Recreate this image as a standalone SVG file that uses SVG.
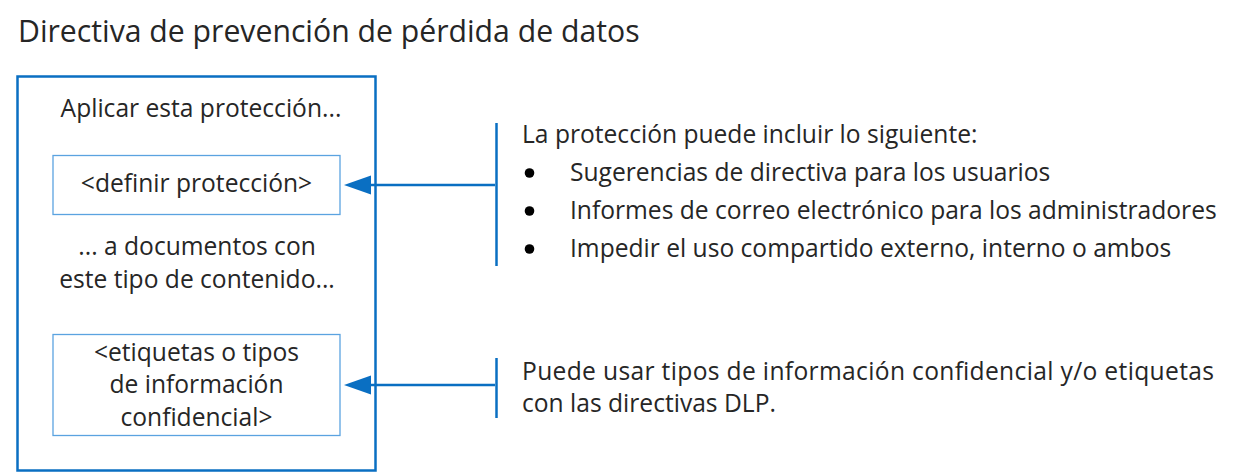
<svg xmlns="http://www.w3.org/2000/svg" width="1255" height="474" viewBox="0 0 1255 474">
<style>
text{font-family:"Open Sans","Noto Sans","Liberation Sans",sans-serif;fill:#262626;font-size:24.6px}
.c{text-anchor:middle}
.title{font-size:30.2px}
.outer{fill:#fff;stroke:#0A6FC2;stroke-width:2.5}
.inner{fill:#fff;stroke:#5BA3E0;stroke-width:1.3}
.conn{stroke:#0A6FC2;stroke-width:2.5;fill:none}
.head{fill:#0A6FC2}
.dot{fill:#000}
</style>
<rect width="1255" height="474" fill="#fff"/>
<text id="title" class="title" x="18" y="42">Directiva de prevención de pérdida de datos</text>
<g id="policy">
<rect class="outer" x="17.5" y="76.5" width="358" height="394"/>
<text class="c" x="201" y="117">Aplicar esta protección...</text>
<text class="c" x="197" y="255">... a documentos con</text>
<text class="c" x="197" y="288">este tipo de contenido...</text>
</g>
<g id="protection">
<rect class="inner" x="53" y="155.5" width="287" height="59"/>
<text class="c" x="196.5" y="192">&lt;definir protección&gt;</text>
</g>
<g id="content">
<rect class="inner" x="53" y="334.5" width="287" height="101"/>
<text class="c" x="196.5" y="361">&lt;etiquetas o tipos</text>
<text class="c" x="196.5" y="393">de información</text>
<text class="c" x="196.5" y="426">confidencial&gt;</text>
</g>
<g id="protection-note">
<text x="522" y="143">La protección puede incluir lo siguiente:</text>
<circle class="dot" cx="529.5" cy="173" r="4.8"/>
<circle class="dot" cx="529.5" cy="211" r="4.8"/>
<circle class="dot" cx="529.5" cy="249" r="4.8"/>
<text x="570" y="181">Sugerencias de directiva para los usuarios</text>
<text x="570" y="219">Informes de correo electrónico para los administradores</text>
<text x="570" y="257">Impedir el uso compartido externo, interno o ambos</text>
</g>
<g id="content-note">
<text x="522" y="380" textLength="692">Puede usar tipos de información confidencial y/o etiquetas</text>
<text x="522" y="412">con las directivas DLP.</text>
</g>
<g id="connectors">
<line class="conn" x1="496.5" y1="123" x2="496.5" y2="266"/>
<line class="conn" x1="496.5" y1="358" x2="496.5" y2="418"/>
<line class="conn" x1="495" y1="185" x2="368" y2="185"/>
<polygon class="head" points="344,185 371,175.5 371,194.5"/>
<line class="conn" x1="495" y1="385" x2="368" y2="385"/>
<polygon class="head" points="344,385 371,375.5 371,394.5"/>
</g>
</svg>
